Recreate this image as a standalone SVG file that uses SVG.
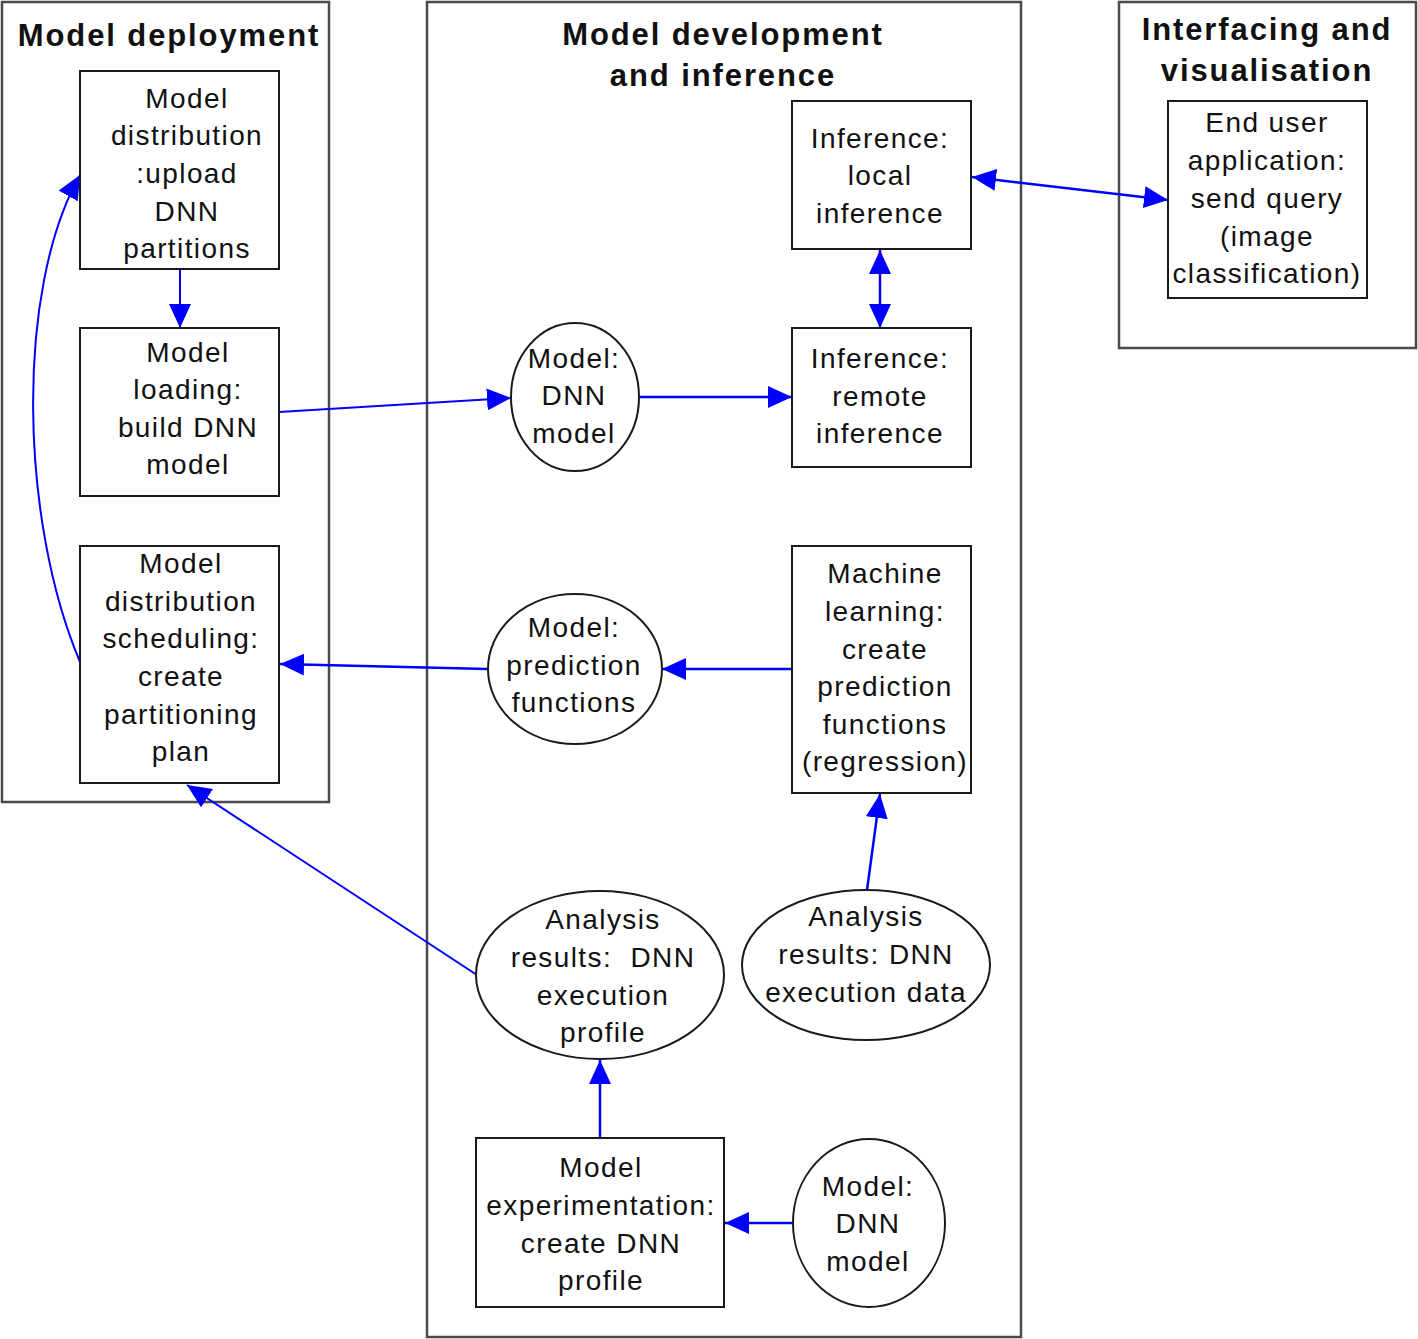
<svg xmlns="http://www.w3.org/2000/svg" width="1418" height="1339" viewBox="0 0 1418 1339">
<style>
.bg{fill:#fff}
.cont{fill:#fff;stroke:#4a4a4a;stroke-width:2.5}
.node{fill:#fff;stroke:#1a1a1a;stroke-width:2}
.t{font-family:"Liberation Sans",Arial,sans-serif;font-size:28px;letter-spacing:1.4px;fill:#111;text-anchor:middle}
.h{font-family:"Liberation Sans",Arial,sans-serif;font-size:31px;font-weight:bold;letter-spacing:1.9px;fill:#111;text-anchor:middle}
.c{fill:none;stroke:#0000ff;stroke-width:2.5}
.thin{stroke-width:2}
</style>
<defs>
<marker id="a" markerUnits="userSpaceOnUse" markerWidth="24" markerHeight="22" refX="24" refY="11" orient="auto">
<path d="M0,0 L24,11 L0,22 z" fill="#0000ff"/>
</marker>
<marker id="s" markerUnits="userSpaceOnUse" markerWidth="24" markerHeight="22" refX="0" refY="11" orient="auto">
<path d="M24,0 L0,11 L24,22 z" fill="#0000ff"/>
</marker>
</defs>
<rect class="bg" x="0" y="0" width="1418" height="1339"/>

<g id="container-deployment">
<rect class="cont" x="2" y="2" width="327" height="800"/>
<text class="h" x="169" y="46">Model deployment</text>
</g>
<g id="container-development">
<rect class="cont" x="427" y="2" width="594" height="1335"/>
<text class="h" x="723" y="45">Model development</text>
<text class="h" x="723" y="86">and inference</text>
</g>
<g id="container-interfacing">
<rect class="cont" x="1119" y="2" width="297" height="346"/>
<text class="h" x="1267" y="40">Interfacing and</text>
<text class="h" x="1267" y="81">visualisation</text>
</g>

<g id="connectors">
<line class="c thin" x1="180" y1="269" x2="180" y2="328" marker-end="url(#a)"/>
<line class="c thin" x1="279" y1="412" x2="511" y2="398" marker-end="url(#a)"/>
<line class="c" x1="639" y1="397" x2="792" y2="397" marker-end="url(#a)"/>
<line class="c" x1="880" y1="250" x2="880" y2="328" marker-start="url(#s)" marker-end="url(#a)"/>
<line class="c" x1="972" y1="177" x2="1168" y2="200" marker-start="url(#s)" marker-end="url(#a)"/>
<line class="c" x1="792" y1="669" x2="662" y2="669" marker-end="url(#a)"/>
<line class="c" x1="488" y1="669" x2="280" y2="664" marker-end="url(#a)"/>
<path class="c thin" d="M80,662 C20,520 15,290 80,175" marker-end="url(#a)"/>
<line class="c thin" x1="477" y1="975" x2="187" y2="785" marker-end="url(#a)"/>
<line class="c" x1="600" y1="1138" x2="600" y2="1060" marker-end="url(#a)"/>
<line class="c" x1="793" y1="1223" x2="725" y2="1223" marker-end="url(#a)"/>
<line class="c" x1="867" y1="890" x2="880" y2="794" marker-end="url(#a)"/>
</g>

<g id="n-upload">
<rect class="node" x="80" y="71" width="199" height="198"/>
<text class="t" x="187" y="108">Model</text>
<text class="t" x="187" y="145">distribution</text>
<text class="t" x="187" y="183">:upload</text>
<text class="t" x="187" y="221">DNN</text>
<text class="t" x="187" y="258">partitions</text>
</g>
<g id="n-loading">
<rect class="node" x="80" y="328" width="199" height="168"/>
<text class="t" x="188" y="362">Model</text>
<text class="t" x="188" y="399">loading:</text>
<text class="t" x="188" y="437">build DNN</text>
<text class="t" x="188" y="474">model</text>
</g>
<g id="n-scheduling">
<rect class="node" x="80" y="546" width="199" height="237"/>
<text class="t" x="181" y="573">Model</text>
<text class="t" x="181" y="611">distribution</text>
<text class="t" x="181" y="648">scheduling:</text>
<text class="t" x="181" y="686">create</text>
<text class="t" x="181" y="724">partitioning</text>
<text class="t" x="181" y="761">plan</text>
</g>
<g id="n-dnn-model-top">
<ellipse class="node" cx="575" cy="397" rx="64" ry="74"/>
<text class="t" x="574" y="368">Model:</text>
<text class="t" x="574" y="405">DNN</text>
<text class="t" x="574" y="443">model</text>
</g>
<g id="n-local">
<rect class="node" x="792" y="101" width="179" height="148"/>
<text class="t" x="880" y="148">Inference:</text>
<text class="t" x="880" y="185">local</text>
<text class="t" x="880" y="223">inference</text>
</g>
<g id="n-remote">
<rect class="node" x="792" y="328" width="179" height="139"/>
<text class="t" x="880" y="368">Inference:</text>
<text class="t" x="880" y="406">remote</text>
<text class="t" x="880" y="443">inference</text>
</g>
<g id="n-enduser">
<rect class="node" x="1168" y="101" width="199" height="197"/>
<text class="t" x="1267" y="132">End user</text>
<text class="t" x="1267" y="170">application:</text>
<text class="t" x="1267" y="208">send query</text>
<text class="t" x="1267" y="246">(image</text>
<text class="t" x="1267" y="283">classification)</text>
</g>
<g id="n-prediction">
<ellipse class="node" cx="575" cy="669" rx="87" ry="75"/>
<text class="t" x="574" y="637">Model:</text>
<text class="t" x="574" y="675">prediction</text>
<text class="t" x="574" y="712">functions</text>
</g>
<g id="n-ml">
<rect class="node" x="792" y="546" width="179" height="247"/>
<text class="t" x="885" y="583">Machine</text>
<text class="t" x="885" y="621">learning:</text>
<text class="t" x="885" y="659">create</text>
<text class="t" x="885" y="696">prediction</text>
<text class="t" x="885" y="734">functions</text>
<text class="t" x="885" y="771">(regression)</text>
</g>
<g id="n-profile">
<ellipse class="node" cx="600" cy="975" rx="124" ry="84"/>
<text class="t" x="603" y="929">Analysis</text>
<text class="t" x="603" y="967" xml:space="preserve">results:  DNN</text>
<text class="t" x="603" y="1005">execution</text>
<text class="t" x="603" y="1042">profile</text>
</g>
<g id="n-execdata">
<ellipse class="node" cx="866" cy="965" rx="124" ry="75"/>
<text class="t" x="866" y="926">Analysis</text>
<text class="t" x="866" y="964">results: DNN</text>
<text class="t" x="866" y="1002">execution data</text>
</g>
<g id="n-experimentation">
<rect class="node" x="476" y="1138" width="248" height="169"/>
<text class="t" x="601" y="1177">Model</text>
<text class="t" x="601" y="1215">experimentation:</text>
<text class="t" x="601" y="1253">create DNN</text>
<text class="t" x="601" y="1290">profile</text>
</g>
<g id="n-dnn-model-bottom">
<ellipse class="node" cx="869" cy="1223" rx="76" ry="84"/>
<text class="t" x="868" y="1196">Model:</text>
<text class="t" x="868" y="1233">DNN</text>
<text class="t" x="868" y="1271">model</text>
</g>
</svg>
